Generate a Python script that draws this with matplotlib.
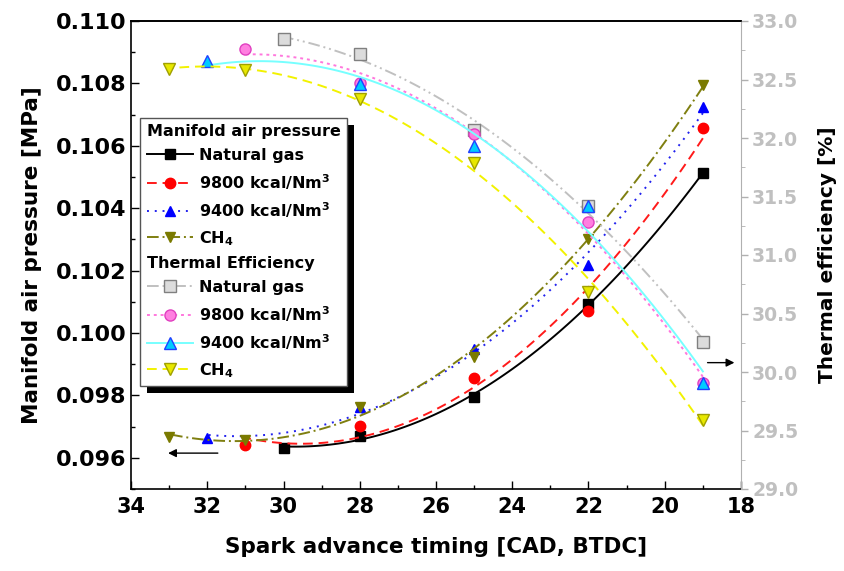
import numpy as np
import matplotlib
matplotlib.use("Agg")
import matplotlib.pyplot as plt
from matplotlib.lines import Line2D
from matplotlib.patches import Rectangle
from matplotlib.transforms import IdentityTransform

plt.rcParams["font.family"] = ["DejaVu Sans"]
plt.rcParams["font.weight"] = "bold"
plt.rcParams["mathtext.fontset"] = "custom"
plt.rcParams["mathtext.rm"] = "DejaVu Sans:bold"
plt.rcParams["mathtext.bf"] = "DejaVu Sans:bold"
plt.rcParams["mathtext.it"] = "DejaVu Sans:bold"

# ── Data ──────────────────────────────────────────────
# Manifold air pressure [MPa] (left axis)
x_ng   = [30, 28, 25, 22, 19]
x_9800 = [31, 28, 25, 22, 19]
x_9400 = [32, 28, 25, 22, 19]
x_ch4  = [33, 31, 28, 25, 22, 19]

map_ng   = [0.09631, 0.09670, 0.09795, 0.10093, 0.10513]
map_9800 = [0.09641, 0.09702, 0.09856, 0.10071, 0.10657]
map_9400 = [0.09663, 0.09763, 0.09949, 0.10218, 0.10724]
map_ch4  = [0.09667, 0.09657, 0.09763, 0.09923, 0.10301, 0.10795]

# Thermal efficiency [%] (right axis)
te_ng   = [32.85, 32.72, 32.07, 31.42, 30.26]
te_9800 = [32.76, 32.47, 32.03, 31.28, 29.91]
te_9400 = [32.66, 32.46, 31.93, 31.42, 29.91]
te_ch4  = [32.59, 32.58, 32.33, 31.79, 30.68, 29.59]

labels_fuel = ["Natural gas", r"9800 kcal/Nm$^{3}$", r"9400 kcal/Nm$^{3}$", r"CH$_{4}$"]

fig = plt.figure(figsize=(8.45, 5.71), dpi=100)
ax = fig.add_axes([131/845, 82/571, 610/845, 468/571])
ax2 = ax.twinx()


def fitted(a, x, y, deg=2, **kw):
    # smooth polynomial trend line through the points (as in the original)
    c = np.polyfit(x, y, deg)
    xs = np.linspace(min(x), max(x), 100)
    return a.plot(xs, np.polyval(c, xs), **kw)[0]


# manifold air pressure series
map_styles = [
    (x_ng, map_ng, dict(color="black", ls="-"), dict(marker="s", color="black")),
    (x_9800, map_9800, dict(color="#ff1a1a", ls=(0, (5, 3))), dict(marker="o", color="#ff0000")),
    (x_9400, map_9400, dict(color="#2222ee", ls=(0, (1, 3))), dict(marker="^", color="#0000ff")),
    (x_ch4, map_ch4, dict(color="#7f7f10", ls=(0, (6, 2, 1, 2))), dict(marker="v", color="#7a7a00")),
]
map_handles = []
for x, y, lkw, mkw in map_styles:
    fitted(ax, x, y, lw=1.4, **lkw)
    ax.plot(x, y, ls="none", ms=7.5, **mkw)
    map_handles.append(Line2D([], [], lw=1.4, ms=7.5, marker=mkw["marker"],
                              color=lkw["color"], ls=lkw["ls"],
                              mfc=mkw["color"], mec=mkw["color"]))

# thermal efficiency series
te_styles = [
    (x_ng, te_ng, dict(color="#c0c0c0", ls=(0, (6, 2, 1, 2, 1, 2))),
     dict(marker="s", mfc="#dcdcdc", mec="#808080")),
    (x_9800, te_9800, dict(color="#ff77dd", ls=(0, (1.5, 2))),
     dict(marker="o", mfc="#ff7fe0", mec="#e040c0")),
    (x_9400, te_9400, dict(color="#77ffff", ls="-"),
     dict(marker="^", mfc="#00ccff", mec="#2040ff")),
    (x_ch4, te_ch4, dict(color="#f2f200", ls=(0, (5, 3))),
     dict(marker="v", mfc="#e8e800", mec="#a0a000")),
]
te_handles = []
for x, y, lkw, mkw in te_styles:
    fitted(ax2, x, y, lw=1.4, **lkw)
    ax2.plot(x, y, ls="none", ms=8, **mkw)
    te_handles.append(Line2D([], [], lw=1.4, ms=8, color=lkw["color"], ls=lkw["ls"], **mkw))

# ── Axes ──────────────────────────────────────────────
ax.set_xlim(34, 18)
ax.set_ylim(0.095, 0.110)
ax2.set_ylim(29.0, 33.0)

ax.set_xticks(np.arange(34, 17, -2))
ax.set_xticks(np.arange(33, 18, -2), minor=True)
ax.set_yticks(np.arange(0.096, 0.1101, 0.002))
ax.set_yticks(np.arange(0.095, 0.1101, 0.001), minor=True)
ax.yaxis.set_major_formatter(matplotlib.ticker.FormatStrFormatter("%.3f"))
ax2.set_yticks(np.arange(29.0, 33.01, 0.5))
ax2.set_yticks(np.arange(29.25, 33.0, 0.5), minor=True)
ax2.yaxis.set_major_formatter(matplotlib.ticker.FormatStrFormatter("%.1f"))

ax.tick_params(axis="both", which="major", direction="in", length=6, width=1, labelsize=16, pad=3)
ax.tick_params(axis="x", which="major", labelsize=15, pad=6)
ax.tick_params(axis="both", which="minor", direction="in", length=3, width=1)
ax.tick_params(top=False, which="both")
ax2.tick_params(axis="y", which="major", direction="out", length=5, width=1,
                color="#b0b0b0", labelcolor="#c0c0c0", labelsize=13.5, pad=3)
ax2.tick_params(axis="y", which="minor", direction="out", length=3, color="#b0b0b0")

for s in ["left", "bottom"]:
    ax2.spines[s].set_visible(False)
ax2.spines["right"].set_color("#b0b0b0")
ax.spines["right"].set_visible(False)
for s in ["left", "bottom", "top"]:
    ax.spines[s].set_linewidth(1.2)
ax2.spines["top"].set_linewidth(1.2)

ax.set_xlabel("Spark advance timing [CAD, BTDC]", fontsize=15.5, fontweight="bold", labelpad=14)
ax.set_ylabel("Manifold air pressure [MPa]", fontsize=15.5, fontweight="bold", labelpad=10)
ax2.set_ylabel("Thermal efficiency [%]", fontsize=14.5, fontweight="bold", labelpad=14)

# arrows pointing at the axes
ax.annotate("", xy=(33.1, 0.09615), xytext=(31.65, 0.09615),
            arrowprops=dict(arrowstyle="-|>", color="black", lw=1, mutation_scale=12))
ax2.annotate("", xy=(18.1, 30.08), xytext=(18.95, 30.08),
             arrowprops=dict(arrowstyle="-|>", color="black", lw=1, mutation_scale=12))

# ── Legend with two group headers ─────────────────────
blank = Line2D([], [], ls="none")
handles = [blank] + map_handles + [blank] + te_handles
labels = ["Manifold air pressure"] + labels_fuel + ["Thermal Efficiency"] + labels_fuel
leg = ax2.legend(handles, labels, loc="upper left", bbox_to_anchor=(0.015, 0.793),
                 borderaxespad=0, handlelength=2.9, handletextpad=0.4,
                 labelspacing=0.55, borderpad=0.4, fancybox=False, framealpha=1,
                 edgecolor="#555555", prop=dict(weight="bold", size=11.5))
leg.get_frame().set_linewidth(1.0)
rows = leg._legend_handle_box.get_children()[0].get_children()
for i in (0, 5):
    rows[i].get_children()[0].width = 0
    rows[i].sep = 0

fig.canvas.draw()
bb = leg.get_window_extent()
shadow = Rectangle((bb.x0 + 7, bb.y0 - 7), bb.width, bb.height, transform=IdentityTransform(),
                   facecolor="black", edgecolor="none", zorder=4.9)
ax2.add_patch(shadow)
ax2.set_ylim(29.0, 33.0)

fig.savefig("out.png", dpi=100)
